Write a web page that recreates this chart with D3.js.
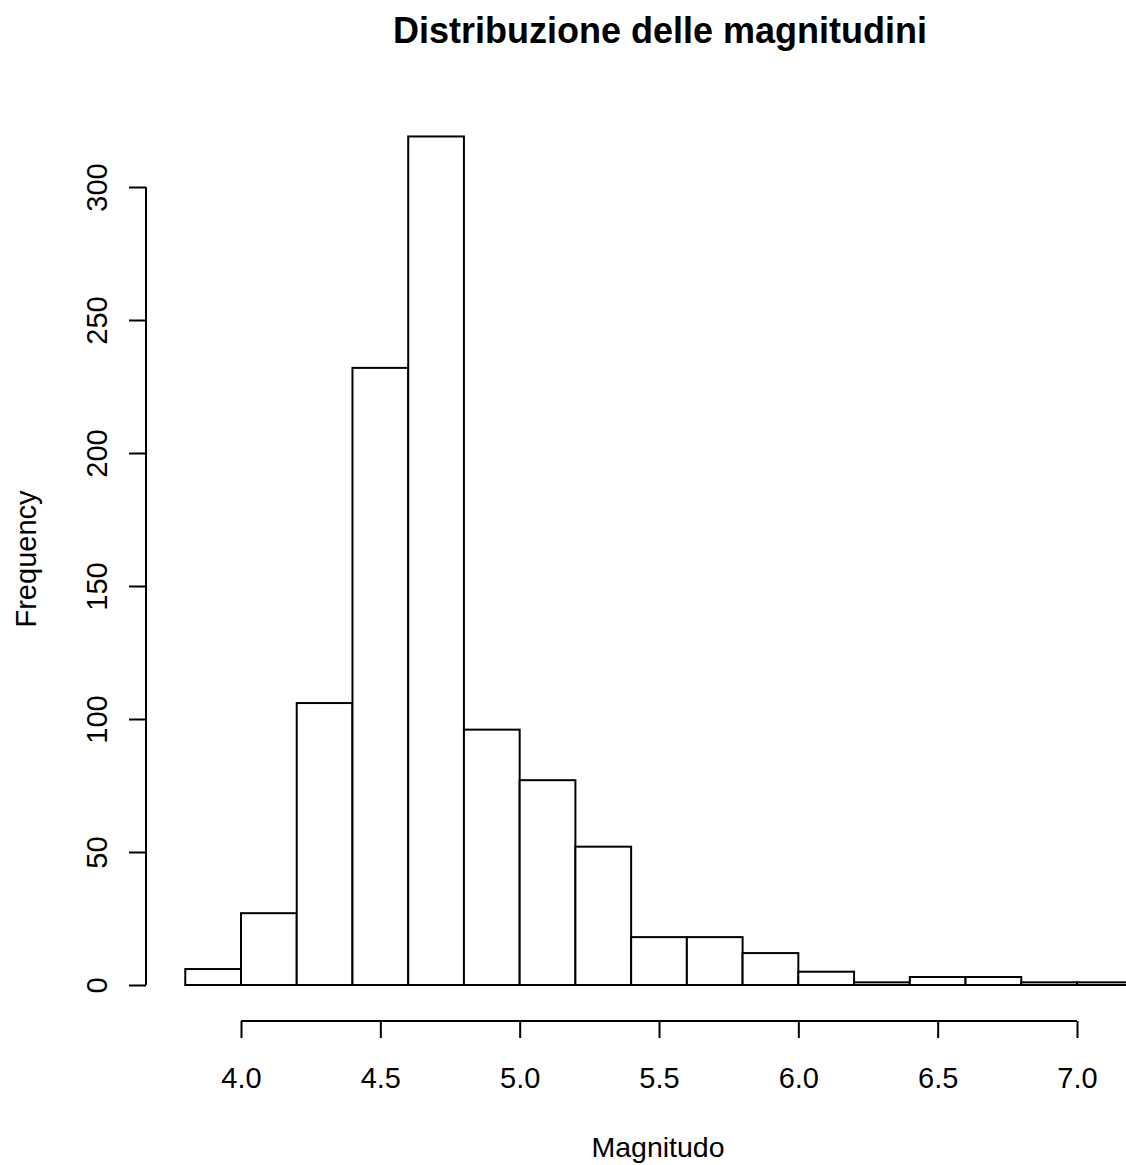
<!DOCTYPE html>
<html>
<head>
<meta charset="utf-8">
<script src="https://cdn.jsdelivr.net/npm/d3@7"></script>
<style>
  html, body { margin: 0; padding: 0; background: #fff; overflow: hidden; }
  svg { display: block; font-family: "Liberation Sans", Arial, sans-serif; }
</style>
</head>
<body>
<svg id="chart"></svg>
<script>
// histogram bins (left edges) and counts
const binStarts = [3.8, 4.0, 4.2, 4.4, 4.6, 4.8, 5.0, 5.2, 5.4, 5.6, 5.8, 6.0, 6.2, 6.4, 6.6, 6.8, 7.0];
const binWidth = 0.2;
const counts = [6, 27, 106, 232, 319, 96, 77, 52, 18, 18, 12, 5, 1, 3, 3, 1, 1];
const xTicks = [4.0, 4.5, 5.0, 5.5, 6.0, 6.5, 7.0];
const yTicks = [0, 50, 100, 150, 200, 250, 300];

const width = 1126, height = 1165;

const svg = d3.select("#chart")
    .attr("width", width)
    .attr("height", height);

const x = d3.scaleLinear().domain([4, 7]).range([241, 1077]);
const y = d3.scaleLinear().domain([0, 300]).range([985, 187]);

// bars
svg.append("g")
    .selectAll("rect")
    .data(binStarts)
    .join("rect")
    .attr("x", d => x(d))
    .attr("y", (d, i) => y(counts[i]))
    .attr("width", d => x(d + binWidth) - x(d))
    .attr("height", (d, i) => y(0) - y(counts[i]))
    .attr("fill", "#fff")
    .attr("stroke", "#000")
    .attr("stroke-width", 2);

// x axis, R style: line only between first and last tick
const xAxis = d3.axisBottom(x)
    .tickValues(xTicks)
    .tickFormat(d3.format(".1f"))
    .tickSize(17)
    .tickSizeOuter(0);

svg.append("g")
    .attr("transform", "translate(0,1021)")
    .call(xAxis)
    .call(g => g.select(".domain").attr("d", `M${x(4)},0H${x(7)}`).attr("stroke-width", 2))
    .call(g => g.selectAll(".tick line").attr("stroke-width", 2))
    .call(g => g.selectAll(".tick text")
        .attr("font-size", 29)
        .attr("font-family", "Liberation Sans, Arial, sans-serif")
        .attr("fill", "#000")
        .attr("y", 67)
        .attr("dy", null));

// y axis
const yAxis = d3.axisLeft(y)
    .tickValues(yTicks)
    .tickSize(17)
    .tickSizeOuter(0);

svg.append("g")
    .attr("transform", "translate(146,0)")
    .call(yAxis)
    .call(g => g.select(".domain").attr("d", `M0,${y(0)}V${y(300)}`).attr("stroke-width", 2))
    .call(g => g.selectAll(".tick line").attr("stroke-width", 2))
    .call(g => g.selectAll(".tick text")
        .attr("font-size", 29)
        .attr("font-family", "Liberation Sans, Arial, sans-serif")
        .attr("fill", "#000")
        .attr("text-anchor", "middle")
        .attr("x", null)
        .attr("y", null)
        .attr("dy", null)
        .attr("transform", "translate(-39,0) rotate(-90)"));

// title
svg.append("text")
    .attr("x", 660)
    .attr("y", 43)
    .attr("text-anchor", "middle")
    .attr("font-size", 36)
    .attr("font-weight", "bold")
    .attr("fill", "#000")
    .text("Distribuzione delle magnitudini");

// axis labels
svg.append("text")
    .attr("x", 658)
    .attr("y", 1157)
    .attr("text-anchor", "middle")
    .attr("font-size", 28.5)
    .attr("fill", "#000")
    .text("Magnitudo");

svg.append("text")
    .attr("transform", "translate(36,559) rotate(-90)")
    .attr("text-anchor", "middle")
    .attr("font-size", 29)
    .attr("fill", "#000")
    .text("Frequency");
</script>
</body>
</html>
